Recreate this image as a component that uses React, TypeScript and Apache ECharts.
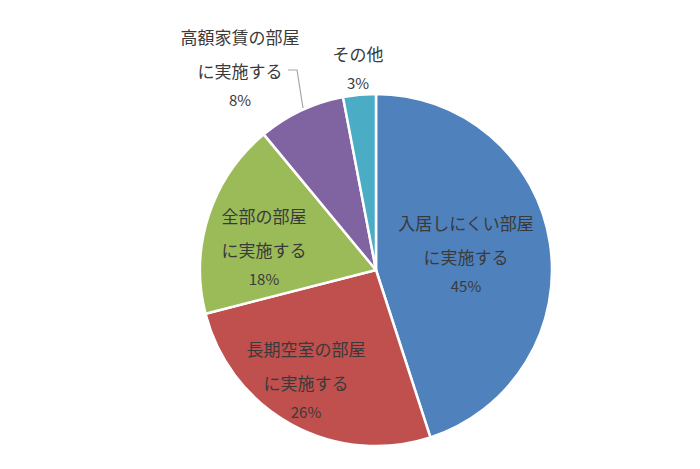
import { useEffect, useRef } from "react";
import * as echarts from "echarts";

const categories = [
  "入居しにくい部屋\nに実施する",
  "長期空室の部屋\nに実施する",
  "全部の部屋\nに実施する",
  "高額家賃の部屋\nに実施する",
  "その他",
];
const values = [45, 26, 18, 8, 3];
const colors = ["#4F81BD", "#C0504D", "#9BBB59", "#8064A2", "#4BACC6"];

// label block anchors (center x, top y) for each slice
const labelPos = [
  [466, 205],
  [306, 331],
  [264, 198],
  [240, 19],
  [358, 36],
];

export default function App() {
  const chartRef = useRef<HTMLDivElement>(null);

  useEffect(() => {
    if (!chartRef.current) return;
    const chart = echarts.init(chartRef.current, null, { renderer: "svg" });

    const option: echarts.EChartsOption = {
      animation: false,
      color: colors,
      textStyle: { fontFamily: "Noto Sans CJK JP" },
      graphic: [
        {
          type: "polyline",
          shape: { points: [[288, 70], [297, 70], [303, 108]] },
          style: { stroke: "#A6A6A6", lineWidth: 1.2, fill: "none" },
          silent: true,
        },
      ],
      series: [
        {
          type: "pie",
          center: [376, 270],
          radius: [0, 176],
          startAngle: 90,
          clockwise: true,
          itemStyle: { borderColor: "#ffffff", borderWidth: 2.5 },
          label: {
            show: true,
            position: "inside",
            color: "#404040",
            formatter: (p: any) => `{n|${p.name.split("\n").join("}\n{n|")}}\n{p|${p.value}%}`,
            rich: {
              n: { fontSize: 17, lineHeight: 34, color: "#3a3a3a", fontFamily: "Noto Sans CJK JP" },
              p: { fontSize: 15, lineHeight: 25, color: "#3a3a3a", fontFamily: "Noto Sans CJK JP" },
            },
          },
          labelLine: { show: false },
          labelLayout: (params: any) => {
            const pos = labelPos[params.dataIndex];
            return { x: pos[0], y: pos[1], align: "center", verticalAlign: "top" };
          },
          data: categories.map((name, i) => ({ name, value: values[i] })),
        },
      ],
    };

    chart.setOption(option);
    return () => chart.dispose();
  }, []);

  return (
    <div
      ref={chartRef}
      style={{ position: "fixed", left: 0, top: 0, width: 700, height: 469, background: "#fff" }}
    />
  );
}
